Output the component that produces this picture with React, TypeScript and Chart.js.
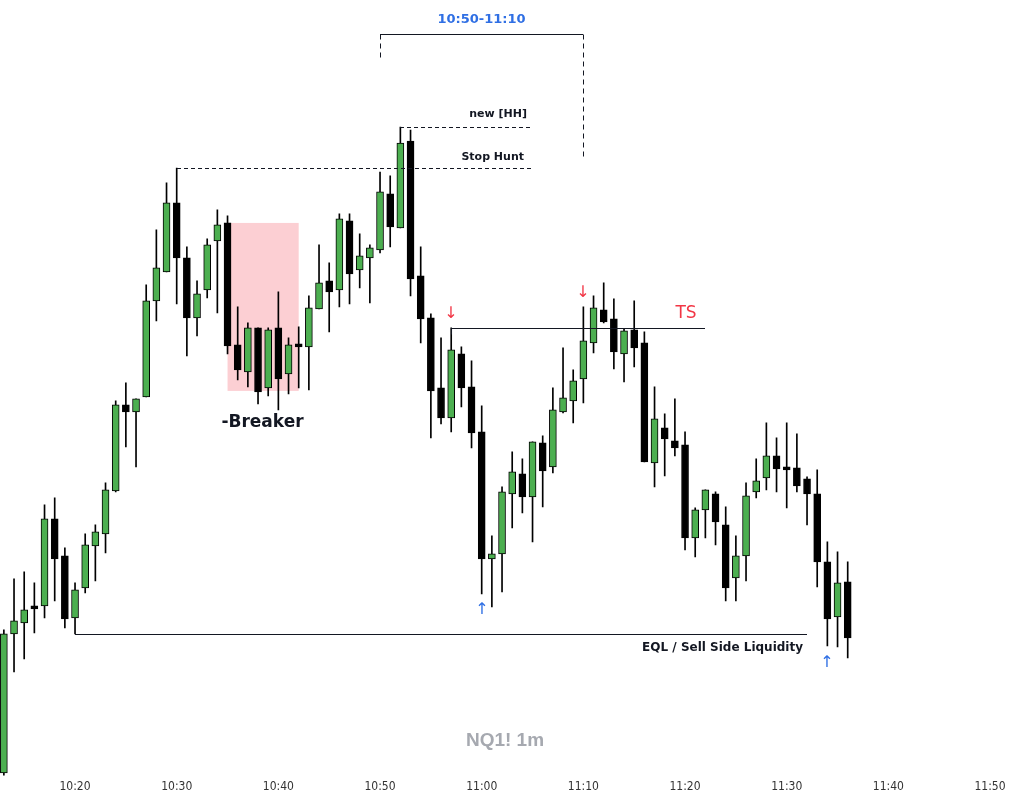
import React, { useEffect, useRef } from "react";
import { Chart, registerables } from "chart.js";

Chart.register(...registerables);

// NQ1! 1-minute candles, 10:13 .. 11:36 (minutes after midnight)
const START_MINUTE = 613;
const OPEN = [
  27, 166, 177, 193, 194, 281, 244, 182, 212, 254, 266, 309, 395, 388, 403, 499, 528, 597, 542, 482,
  510, 559, 577, 455, 428, 472, 412, 472, 426, 454, 453, 491, 519, 510, 579, 530, 542, 550, 606, 572,
  659, 524, 482, 412, 382, 446, 413, 368, 241, 246, 306, 326, 303, 357, 333, 388, 399, 421, 457, 490,
  481, 446, 470, 457, 337, 372, 359, 355, 262, 290, 306, 275, 222, 244, 308, 322, 344, 333, 332, 321,
  306, 238, 183, 218,
];
const HIGH = [
  170, 221, 228, 217, 295, 302, 252, 217, 266, 275, 317, 399, 417, 401, 515, 570, 617, 632, 553, 519,
  561, 590, 584, 493, 477, 472, 472, 508, 462, 473, 504, 555, 537, 586, 586, 566, 555, 628, 624, 673,
  670, 553, 486, 462, 472, 453, 439, 394, 264, 313, 348, 341, 358, 364, 412, 452, 430, 493, 504, 517,
  501, 471, 499, 468, 413, 386, 401, 368, 292, 310, 308, 293, 264, 317, 341, 377, 362, 377, 366, 323,
  330, 258, 248, 238,
];
const LOW = [
  24, 128, 141, 167, 182, 199, 172, 166, 207, 219, 247, 308, 353, 333, 403, 479, 528, 496, 444, 464,
  502, 487, 446, 420, 413, 396, 404, 390, 406, 412, 410, 491, 468, 493, 496, 512, 497, 547, 553, 572,
  504, 457, 362, 376, 368, 393, 352, 206, 193, 208, 272, 287, 258, 293, 327, 387, 377, 397, 447, 477,
  431, 418, 433, 338, 313, 324, 344, 250, 243, 262, 255, 199, 199, 219, 302, 310, 308, 292, 308, 275,
  213, 154, 153, 142,
];
const CLOSE = [
  166, 179, 190, 191, 281, 241, 181, 210, 255, 268, 310, 395, 388, 401, 499, 532, 597, 542, 482, 506,
  555, 575, 454, 430, 472, 408, 470, 421, 455, 453, 492, 517, 508, 581, 526, 544, 552, 608, 573, 657,
  521, 481, 409, 382, 450, 412, 367, 241, 246, 308, 328, 303, 358, 329, 390, 402, 419, 459, 492, 478,
  448, 469, 452, 338, 381, 361, 352, 262, 290, 310, 278, 212, 244, 304, 319, 344, 331, 330, 314, 306,
  238, 181, 217, 162,
];
const TIME_TICKS = [620, 630, 640, 650, 660, 670, 680, 690, 700, 710];

// annotation levels (price units) and times (minutes)
const STOP_HUNT = { price: 632, from: 630, to: 665 };
const NEW_HH = { price: 673, from: 652, to: 665 };
const WINDOW = { top: 766, leftBottom: 740, rightBottom: 642, from: 650, to: 670, label: "10:50-11:10" };
const TS_LINE = { price: 472, from: 657, to: 682 };
const EQL_LINE = { price: 166, from: 620, to: 692 };
const BREAKER = { from: 635, to: 642, top: 577, bottom: 409 };
const DOWN_ARROWS = [
  { t: 657, price: 487 },
  { t: 670, price: 508 },
];
const UP_ARROWS = [
  { t: 660, price: 191 },
  { t: 694, price: 138 },
];

const GREEN = "#4caf50";
const RED = "#f23645";
const BLUE = "#2f6fe4";
const INK = "#131722";
const LABEL_FONT = "'DejaVu Sans', Verdana, sans-serif";

function fmtTime(m: number) {
  const h = Math.floor(m / 60);
  const mm = m % 60;
  return `${h}:${mm < 10 ? "0" : ""}${mm}`;
}

const annotationPlugin = {
  id: "annotations",
  beforeDatasetsDraw(chart: any) {
    const { ctx, scales } = chart;
    const x = (t: number) => scales.x.getPixelForValue(t);
    const y = (v: number) => scales.y.getPixelForValue(v);
    ctx.save();
    ctx.fillStyle = "rgba(242, 54, 69, 0.24)";
    ctx.fillRect(x(BREAKER.from), y(BREAKER.top), x(BREAKER.to) - x(BREAKER.from), y(BREAKER.bottom) - y(BREAKER.top));
    ctx.restore();
  },
  afterDatasetsDraw(chart: any) {
    const { ctx, scales } = chart;
    const x = (t: number) => Math.round(scales.x.getPixelForValue(t));
    const y = (v: number) => Math.round(scales.y.getPixelForValue(v)) + 0.5;
    ctx.save();
    ctx.strokeStyle = INK;
    ctx.lineWidth = 1;

    const hline = (p: number, a: number, b: number, dash: number[]) => {
      ctx.setLineDash(dash);
      ctx.beginPath();
      ctx.moveTo(x(a), y(p));
      ctx.lineTo(x(b), y(p));
      ctx.stroke();
    };
    const vline = (t: number, p1: number, p2: number, dash: number[]) => {
      ctx.setLineDash(dash);
      ctx.beginPath();
      ctx.moveTo(x(t) + 0.5, y(p1));
      ctx.lineTo(x(t) + 0.5, y(p2));
      ctx.stroke();
    };

    hline(STOP_HUNT.price, STOP_HUNT.from, STOP_HUNT.to, [4, 3]);
    hline(NEW_HH.price, NEW_HH.from, NEW_HH.to, [4, 3]);
    hline(WINDOW.top, WINDOW.from, WINDOW.to, []);
    vline(WINDOW.from, WINDOW.top, WINDOW.leftBottom, [5, 4]);
    vline(WINDOW.to, WINDOW.top, WINDOW.rightBottom, [5, 4]);
    hline(TS_LINE.price, TS_LINE.from, TS_LINE.to, []);
    vline(TS_LINE.from, TS_LINE.price, TS_LINE.price - 6, []);
    hline(EQL_LINE.price, EQL_LINE.from, EQL_LINE.to, []);
    ctx.setLineDash([]);

    ctx.textBaseline = "middle";
    ctx.fillStyle = INK;
    ctx.textAlign = "right";
    ctx.font = `bold 11px ${LABEL_FONT}`;
    ctx.fillText("new [HH]", x(NEW_HH.to) - 6, y(NEW_HH.price + 13));
    ctx.fillText("Stop Hunt", x(STOP_HUNT.to) - 9, y(STOP_HUNT.price + 11));
    ctx.font = `bold 12px ${LABEL_FONT}`;
    ctx.fillText("EQL / Sell Side Liquidity", x(EQL_LINE.to) - 4, y(EQL_LINE.price - 13));

    ctx.textAlign = "center";
    ctx.fillStyle = BLUE;
    ctx.font = `bold 13px ${LABEL_FONT}`;
    ctx.fillText(WINDOW.label, (x(WINDOW.from) + x(WINDOW.to)) / 2, y(WINDOW.top + 15));

    ctx.fillStyle = INK;
    ctx.font = `bold 17px ${LABEL_FONT}`;
    ctx.fillText("-Breaker", (x(BREAKER.from) + x(BREAKER.to)) / 2 - 1, y(BREAKER.bottom - 31));

    ctx.fillStyle = RED;
    ctx.font = `17px ${LABEL_FONT}`;
    ctx.fillText("TS", x(TS_LINE.to) - 19, y(TS_LINE.price + 15));

    ctx.font = `16px ${LABEL_FONT}`;
    DOWN_ARROWS.forEach((a) => ctx.fillText("\u2193", x(a.t), y(a.price)));
    ctx.fillStyle = BLUE;
    UP_ARROWS.forEach((a) => ctx.fillText("\u2191", x(a.t), y(a.price)));

    ctx.fillStyle = "#a6a9b0";
    ctx.font = "bold 19px 'Liberation Sans', Arial, sans-serif";
    ctx.fillText("NQ1! 1m", x(662.3), y(60));
    ctx.restore();
  },
};

export default function App() {
  const ref = useRef<HTMLCanvasElement | null>(null);

  useEffect(() => {
    if (!ref.current) return;
    const times = OPEN.map((_, i) => START_MINUTE + i);
    const up = OPEN.map((o, i) => CLOSE[i] >= o);
    const chart = new Chart(ref.current, {
      type: "bar",
      data: {
        datasets: [
          {
            label: "wick",
            data: times.map((t, i) => ({ x: t, y: [LOW[i], HIGH[i]] })) as any,
            backgroundColor: "#000000",
            borderWidth: 0,
            barThickness: 1,
            grouped: false,
            order: 2,
          } as any,
          {
            label: "body",
            data: times.map((t, i) => ({ x: t, y: [OPEN[i], CLOSE[i]] })) as any,
            backgroundColor: up.map((u) => (u ? GREEN : "#000000")),
            borderColor: "#000000",
            borderWidth: 1,
            borderSkipped: false,
            barThickness: 7,
            minBarLength: 3,
            grouped: false,
            order: 1,
          } as any,
        ],
      },
      options: {
        animation: false,
        responsive: false,
        maintainAspectRatio: false,
        layout: { padding: { left: 0, right: 0, top: 0, bottom: 2 } },
        plugins: { legend: { display: false }, tooltip: { enabled: false }, title: { display: false } },
        scales: {
          x: {
            type: "linear",
            offset: false,
            min: 612.62,
            max: 713.34,
            grid: { display: false, drawTicks: false, offset: false },
            border: { display: false },
            afterBuildTicks: (axis: any) => {
              axis.ticks = TIME_TICKS.map((v) => ({ value: v }));
            },
            ticks: {
              padding: 4,
              color: "#333333",
              font: { family: "'Liberation Sans Narrow', 'DejaVu Sans Condensed', Arial, sans-serif", size: 12 },
              callback: (v: any) => fmtTime(Number(v)),
              maxRotation: 0,
              autoSkip: false,
            },
          },
          y: {
            type: "linear",
            display: false,
            min: 24.2,
            max: 800,
          },
        },
      } as any,
      plugins: [annotationPlugin],
    });
    return () => chart.destroy();
  }, []);

  return (
    <div style={{ position: "absolute", left: 0, top: 0, width: 1024, height: 800, background: "#ffffff" }}>
      <canvas ref={ref} width={1024} height={800} style={{ display: "block" }} />
    </div>
  );
}
